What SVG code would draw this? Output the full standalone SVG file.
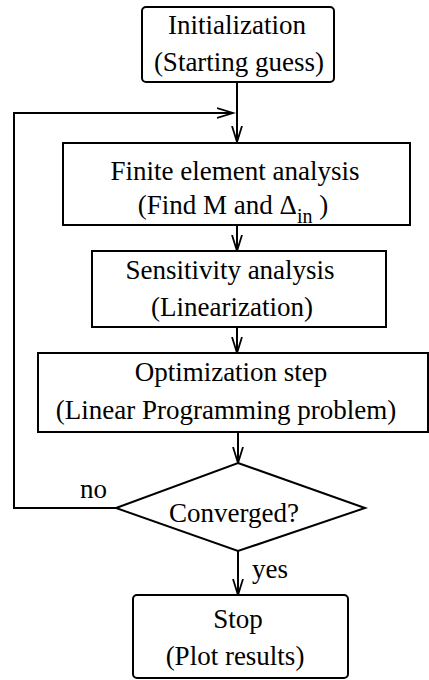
<svg xmlns="http://www.w3.org/2000/svg" width="429" height="680" viewBox="0 0 429 680">
  <style>
    .box { fill: #fff; stroke: #000; stroke-width: 2; }
    .lbl { font-family: "Liberation Serif", "Times New Roman", serif; font-size: 27px; fill: #000; text-anchor: middle; }
    .edge { fill: none; stroke: #000; stroke-width: 2; }
    .tag { font-family: "Liberation Serif", "Times New Roman", serif; font-size: 27px; fill: #000; }
  </style>
  <defs>
    <marker id="open-arrow" markerUnits="userSpaceOnUse" markerWidth="20" markerHeight="14" refX="16" refY="6" orient="auto">
      <path d="M0,1 L16,6 L0,11" fill="none" stroke="#000" stroke-width="1.8"/>
    </marker>
  </defs>

  <rect width="429" height="680" fill="#fff"/>

  <g id="connectors">
    <line class="edge" x1="237" y1="82" x2="237" y2="142" marker-end="url(#open-arrow)"/>
    <line class="edge" x1="237" y1="225" x2="237" y2="251" marker-end="url(#open-arrow)"/>
    <line class="edge" x1="237" y1="327" x2="237" y2="353" marker-end="url(#open-arrow)"/>
    <line class="edge" x1="238" y1="432" x2="238" y2="463" marker-end="url(#open-arrow)"/>
    <line class="edge" x1="238" y1="551" x2="238" y2="595" marker-end="url(#open-arrow)"/>
    <polyline class="edge" points="116,508 14,508 14,113 233,113" marker-end="url(#open-arrow)"/>
    <text class="tag" x="80" y="498">no</text>
    <text class="tag" x="252" y="578">yes</text>
  </g>

  <g id="init">
    <rect class="box" x="142" y="7" width="192" height="75" rx="4"/>
    <text class="lbl" x="237" y="34">Initialization</text>
    <text class="lbl" x="239" y="71">(Starting guess)</text>
  </g>

  <g id="fea">
    <rect class="box" x="63" y="143" width="347" height="82"/>
    <text class="lbl" x="235" y="180">Finite element analysis</text>
    <text class="lbl" x="233" y="214">(Find M and Δ<tspan font-size="20" dy="9">in</tspan><tspan dy="-9"> )</tspan></text>
  </g>

  <g id="sensitivity">
    <rect class="box" x="92" y="251" width="294" height="76"/>
    <text class="lbl" x="230" y="279">Sensitivity analysis</text>
    <text class="lbl" x="232" y="316">(Linearization)</text>
  </g>

  <g id="optimization">
    <rect class="box" x="38" y="353" width="390" height="79"/>
    <text class="lbl" x="231" y="381">Optimization step</text>
    <text class="lbl" x="226" y="419">(Linear Programming problem)</text>
  </g>

  <g id="converged">
    <polygon class="box" points="238,463 365,508 238,551 116,508"/>
    <text class="lbl" x="234" y="522">Converged?</text>
  </g>

  <g id="stop">
    <rect class="box" x="133" y="595" width="215" height="83" rx="4"/>
    <text class="lbl" x="238" y="628">Stop</text>
    <text class="lbl" x="235" y="665">(Plot results)</text>
  </g>
</svg>
